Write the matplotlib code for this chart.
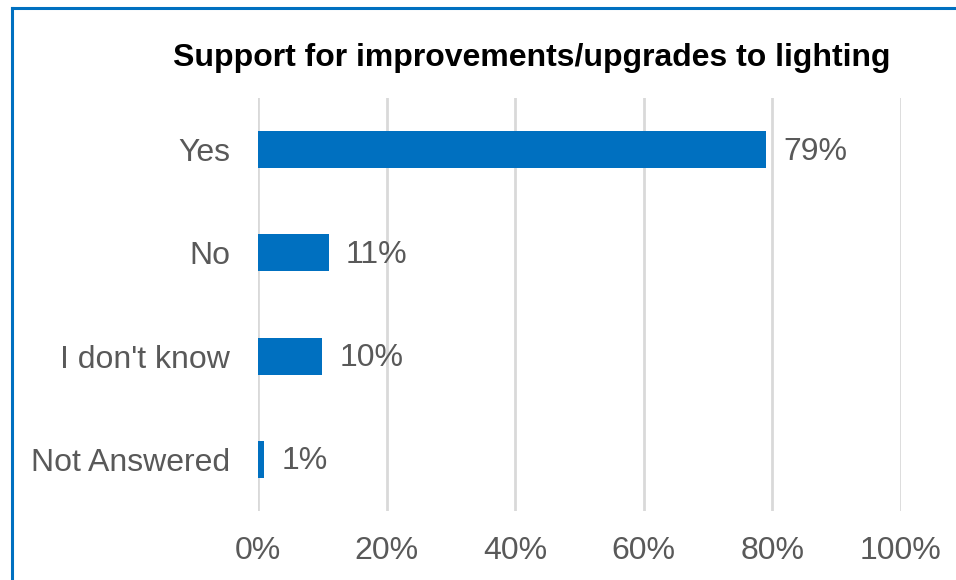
import matplotlib
matplotlib.use("Agg")
import matplotlib.pyplot as plt
from matplotlib.lines import Line2D

categories = ["Yes", "No", "I don't know", "Not Answered"]
values = [79, 11, 10, 1]
value_labels = ["79%", "11%", "10%", "1%"]
xticks = [0, 20, 40, 60, 80, 100]
xtick_labels = ["0%", "20%", "40%", "60%", "80%", "100%"]
title = "Support for improvements/upgrades to lighting"

plt.rcParams['font.family'] = ['Liberation Sans', 'DejaVu Sans']

W, H = 956, 580
fig = plt.figure(figsize=(W / 100, H / 100), dpi=100)
ax = fig.add_axes([258 / W, 1 - 511 / H, (901 - 258) / W, (511 - 98) / H])

gray = "#595959"
blue = "#0070C0"
fs = 23
ypos = list(range(len(categories)))
ax.barh(ypos, values, height=0.36, color=blue, zorder=3)
ax.set_ylim(len(categories) - 0.5, -0.5)
ax.set_xlim(0, 100)
ax.set_yticks(ypos)
ax.set_yticklabels(categories, fontsize=fs, color=gray)
ax.set_xticks(xticks)
ax.set_xticklabels(xtick_labels, fontsize=fs, color=gray)
ax.tick_params(axis='both', length=0)
ax.tick_params(axis='y', pad=20)
ax.tick_params(axis='x', pad=18)
for s in ax.spines.values():
    s.set_visible(False)
ax.grid(axis='x', color="#D9D9D9", linewidth=2, zorder=0)
ax.set_axisbelow(True)

for y, v, lab in zip(ypos, values, value_labels):
    ax.annotate(lab, xy=(v, y), xytext=(17, -2), textcoords='offset pixels',
                va='center', ha='left', fontsize=fs, color=gray)

fig.text(532 / W, 1 - 58 / H, title, ha='center', va='center',
         fontsize=23, fontweight='bold', color='black')

# outer chart border (left and top visible)
fig.add_artist(Line2D([12 / W, 12 / W], [0, 1 - 8 / H], transform=fig.transFigure,
                      color=blue, linewidth=2.2))
fig.add_artist(Line2D([12 / W, 1], [1 - 8 / H, 1 - 8 / H], transform=fig.transFigure,
                      color=blue, linewidth=2.2))

fig.savefig("out.png", dpi=100)
